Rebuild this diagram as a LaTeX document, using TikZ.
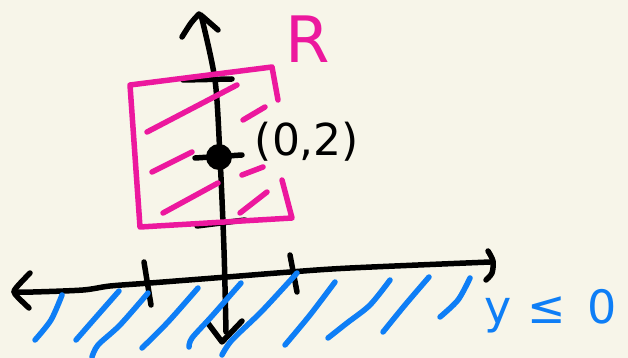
\documentclass[tikz,border=0pt]{standalone}
\usepackage{fontspec}
\setmainfont{DejaVu Sans}
\definecolor{bg}{RGB}{247,245,233}
\definecolor{pinkc}{RGB}{236,24,158}
\definecolor{bluec}{RGB}{14,126,246}
\begin{document}
\begin{tikzpicture}[x=1pt,y=-1pt,line cap=round,line join=round,
  ink/.style={line width=5.5pt},
  blk/.style={ink,black},
  pnk/.style={ink,pinkc},
  blu/.style={ink,bluec},
  lbl/.style={inner sep=0pt,anchor=base}]
\fill[bg] (0,0) rectangle (628,358);
\useasboundingbox (0,0) rectangle (628,358);
% vertical axis
\draw[blk] plot[smooth] coordinates {(201,15) (215,80) (220,157) (224,250) (226,332)};
\draw[blk] plot[smooth] coordinates {(182,37) (191,23) (199,14)};
\draw[blk] (202,16) -- (218,30);
\draw[blk] (207,322) -- (222,342) -- (242,321);
% horizontal axis
\draw[blk] plot[smooth] coordinates {(14,292) (33,292) (83,290) (110,286) (150,283) (227,277) (290,272) (350,268) (490,262)};
\draw[blk] plot[smooth] coordinates {(30,273) (16,288) (15,294) (29,308)};
\draw[blk] plot[smooth] coordinates {(488,251) (493,261) (492,273) (486,280)};
% ticks
\draw[blk] (144,262) -- (151,305);
\draw[blk] (290,255) -- (297,292);
\draw[blk] (183,80) -- (232,79);
\draw[blk] (197,226) -- (245,220);
% point
\fill[black] (219,157) circle (13);
\draw[blk] (195,158) -- (242,155);
% pink region
\draw[pnk] (278,100) -- (272,67) -- (130,85) -- (140,227) -- (292,218) -- (282,180);
\draw[pnk] (237,85) -- (147,132);
\draw[pnk] (265,107) -- (243,120);
\draw[pnk] (192,152) -- (152,172);
\draw[pnk] (263,167) -- (242,175);
\draw[pnk] (218,183) -- (163,213);
\draw[pnk] (267,192) -- (240,213);
% blue hatch
\draw[blu] plot[smooth] coordinates {(62,295) (51,320) (35,340)};
\draw[blu] plot[smooth] coordinates {(119,291) (97,316) (76,340)};
\draw[blu] plot[smooth] coordinates {(148,293) (120,325) (98,345) (92,357)};
\draw[blu] plot[smooth] coordinates {(198,288) (168,322) (142,348)};
\draw[blu] plot[smooth] coordinates {(241,283) (212,316) (192,338) (189,347)};
\draw[blu] plot[smooth] coordinates {(297,273) (262,311) (232,340) (222,355)};
\draw[blu] plot[smooth] coordinates {(335,282) (310,315) (285,345)};
\draw[blu] plot[smooth] coordinates {(390,280) (370,305) (347,323) (328,338)};
\draw[blu] plot[smooth] coordinates {(429,277) (405,305) (383,332)};
\draw[blu] plot[smooth] coordinates {(470,278) (458,300) (440,317)};
% labels
\node[lbl,text=pinkc,font=\fontsize{64}{64}\selectfont] (r) at (308,63) {R};
\node[lbl,text=black,font=\fontsize{44}{44}\selectfont] (pt) at (307,155) {(0,2)};
\node[lbl,text=bluec,font=\fontsize{46}{46}\selectfont,anchor=base west] (ineq) at (484,323) {y\hspace{16pt}≤\hspace{22pt}0};
\end{tikzpicture}
\end{document}
